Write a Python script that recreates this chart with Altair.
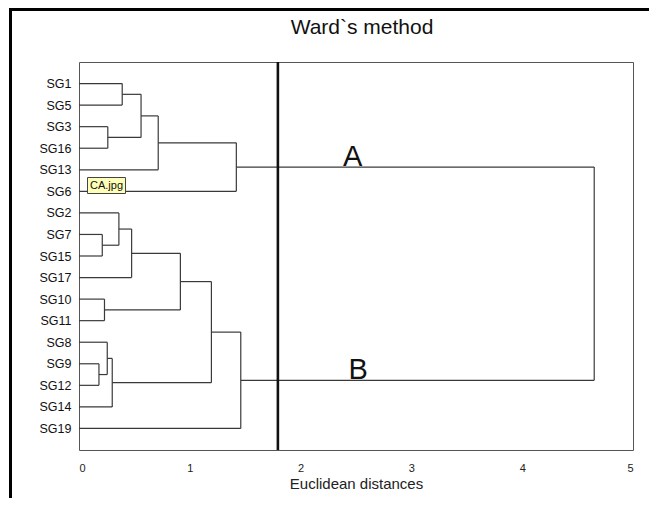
import altair as alt
import pandas as pd

# ---- data ----
leaves = ["SG1", "SG5", "SG3", "SG16", "SG13", "SG6", "SG2", "SG7", "SG15",
          "SG17", "SG10", "SG11", "SG8", "SG9", "SG12", "SG14", "SG19"]
# merges: (left child, right child, height); children are leaf names or "m<k>"
merge_left = ["SG1", "SG3", "m0", "m2", "m3", "SG7", "SG2", "m6", "SG10",
              "m7", "SG9", "SG8", "m11", "m9", "m13", "m4"]
merge_right = ["SG5", "SG16", "m1", "SG13", "SG6", "SG15", "m5", "SG17", "SG11",
               "m8", "SG12", "m10", "SG14", "m12", "SG19", "m14"]
merge_height = [0.39, 0.26, 0.56, 0.715, 1.42, 0.21, 0.36, 0.475, 0.23,
                0.915, 0.18, 0.255, 0.30, 1.195, 1.46, 4.65]
cut_distance = [1.795]
cluster_names = ["A", "B"]
cluster_nodes = ["m4", "m14"]
cluster_label_x = [2.47, 2.52]
x_ticks = [0, 1, 2, 3, 4, 5]

# ---- build dendrogram segments ----
pos = {name: (float(i), 0.0) for i, name in enumerate(leaves)}
segs = []
for k, (a, b, h) in enumerate(zip(merge_left, merge_right, merge_height)):
    ya, ha = pos[a]
    yb, hb = pos[b]
    segs.append({"x": ha, "x2": h, "y": ya, "y2": ya})
    segs.append({"x": hb, "x2": h, "y": yb, "y2": yb})
    segs.append({"x": h, "x2": h, "y": ya, "y2": yb})
    pos[f"m{k}"] = ((ya + yb) / 2, h)
seg_df = pd.DataFrame(segs)

lab_df = pd.DataFrame({
    "label": cluster_names,
    "x": cluster_label_x,
    "y": [pos[n][0] for n in cluster_nodes],
})
cut_df = pd.DataFrame({"x": cut_distance})

W, H = 554, 388
FONT = "Liberation Sans"

xscale = alt.Scale(domain=[0, 5], nice=False, zero=False)
yscale = alt.Scale(domain=[-1, len(leaves)], nice=False, zero=False, reverse=True)

label_expr = "[" + ",".join(f"'{n}'" for n in leaves) + "][datum.value]"

xaxis = alt.Axis(
    values=x_ticks, format="d", title="Euclidean distances", grid=False,
    ticks=False, domain=False, labelFontSize=11, labelPadding=12,
    labelColor="#222", labelFont=FONT, titleFont=FONT, titleFontSize=15,
    titleFontWeight="normal", titleColor="#222", titlePadding=3)
yaxis = alt.Axis(
    values=list(range(len(leaves))), labelExpr=label_expr, title=None,
    grid=False, ticks=False, domain=False, labelFontSize=12.5, labelPadding=8,
    labelOverlap=False, labelColor="#111", labelFont=FONT)

lines = alt.Chart(seg_df).mark_rule(color="#3a3a3a", strokeWidth=1.2).encode(
    x=alt.X("x:Q", scale=xscale, axis=xaxis),
    x2="x2:Q",
    y=alt.Y("y:Q", scale=yscale, axis=yaxis),
    y2="y2:Q",
)

cut = alt.Chart(cut_df).mark_rule(color="#111", strokeWidth=2.6).encode(
    x=alt.X("x:Q", scale=xscale, axis=xaxis),
    y=alt.value(0),
    y2=alt.value(H),
)

labels = alt.Chart(lab_df).mark_text(
    font=FONT, fontSize=29, baseline="alphabetic", align="center", dy=-1.5, color="#111"
).encode(
    x=alt.X("x:Q", scale=xscale, axis=xaxis),
    y=alt.Y("y:Q", scale=yscale, axis=yaxis),
    text="label:N",
)

title = alt.Chart(pd.DataFrame({"t": ["Ward`s method"]})).mark_text(
    font=FONT, fontSize=21, baseline="alphabetic", align="center", color="#111"
).encode(x=alt.value(283), y=alt.value(-28.5), text="t:N")

frame_top = alt.Chart(pd.DataFrame({"a": [0]})).mark_rule(
    color="#000", strokeWidth=3, clip=False
).encode(x=alt.value(-70), x2=alt.value(W + 20), y=alt.value(-52.5))
frame_left = alt.Chart(pd.DataFrame({"a": [0]})).mark_rule(
    color="#000", strokeWidth=3, clip=False
).encode(x=alt.value(-68.5), y=alt.value(-54), y2=alt.value(H + 50))

tip_box = alt.Chart(pd.DataFrame({"a": [0]})).mark_rect(
    fill="#ffffb8", stroke="#444", strokeWidth=1
).encode(x=alt.value(8.5), x2=alt.value(46.5), y=alt.value(115.5), y2=alt.value(131.5))
tip_text = alt.Chart(pd.DataFrame({"t": ["CA.jpg"]})).mark_text(
    font=FONT, fontSize=11, baseline="middle", align="center", color="#111"
).encode(x=alt.value(27.5), y=alt.value(123.8), text="t:N")

chart = alt.layer(
    lines, cut, labels, title, frame_top, frame_left, tip_box, tip_text
).properties(
    width=W, height=H,
    autosize=alt.AutoSizeParams(type="none"),
    padding={"left": 71, "top": 54, "right": 16, "bottom": 48},
    background="white",
).configure_view(stroke="#555", strokeWidth=1)

chart.save("out.html", embed_options={"renderer": "svg", "actions": False})
